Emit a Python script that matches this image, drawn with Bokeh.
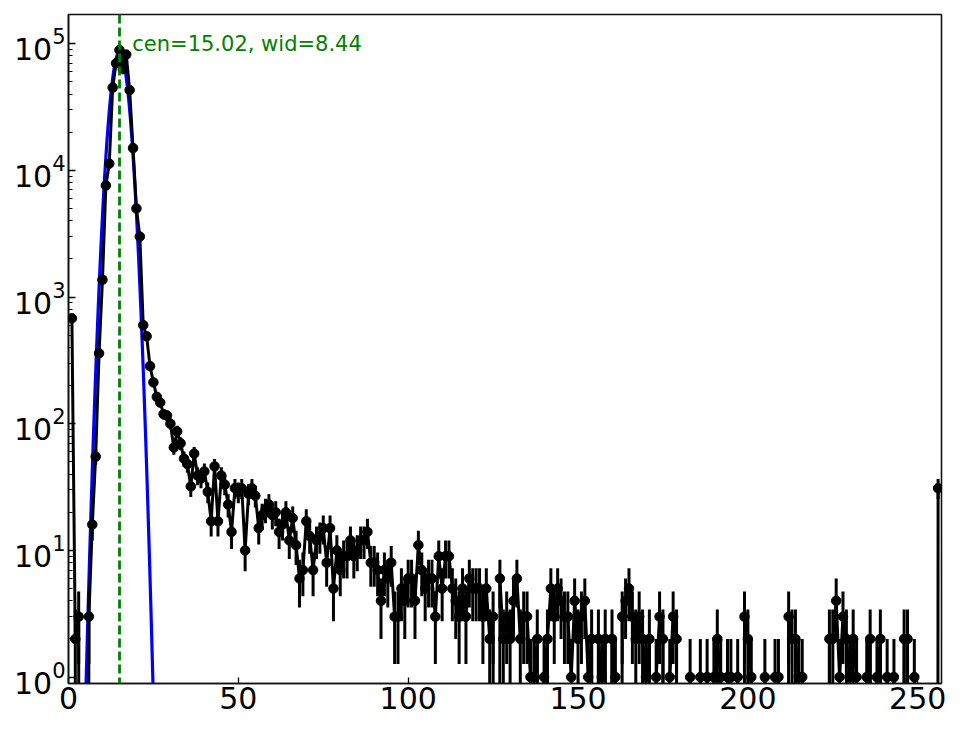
import numpy as np
from bokeh.plotting import figure
from bokeh.models import Range1d, FixedTicker, Span, Label, ColumnDataSource
from bokeh.embed import file_html
from bokeh.resources import INLINE

# ---- data (histogram counts per bin) ----
counts = [
    680, 2, 3, 0, 0, 3, 16, 55, 360, 1370,                      # 0-9
    7600, 11300, 45000, 70000, 89000, 63000, 82000, 43000, 15000, 5000,  # 10-19
    3000, 600, 490, 285, 212, 163, 147, 119, 116, 100,          # 20-29
    65, 87, 70, 53, 48, 32, 58, 39, 37, 42,                     # 30-39
    29, 17, 46, 17, 39, 33, 23, 14, 31, 29,                     # 40-49
    31, 10, 28, 31, 27, 15, 19, 21, 23, 19,                     # 50-59
    20, 14, 16, 20, 12, 18, 11, 6, 7, 17,                       # 60-69
    13, 7, 12, 13, 15, 8, 15, 5, 10, 7,                         # 70-79
    9, 9, 12, 9, 10, 12, 12, 14, 8, 8,                          # 80-89
    7, 4, 7, 6, 8, 3, 3, 5, 4, 6,                               # 90-99
    6, 4, 11, 7, 5, 6, 6, 3, 9, 5,                              # 100-109
    9, 9, 5, 4, 3, 5, 3, 6, 5, 5,                               # 110-119
    5, 3, 5, 2, 3, 0, 6, 2, 3, 2,                               # 120-129
    4, 6, 2, 3, 3, 1, 1, 2, 0, 1,                               # 130-139
    2, 5, 3, 5, 4, 3, 3, 1, 4, 2,                               # 140-149
    3, 4, 1, 2, 0, 2, 1, 2, 0, 2,                               # 150-159
    1, 0, 3, 4, 5, 3, 2, 3, 2, 1,                               # 160-169
    2, 0, 1, 3, 2, 0, 1, 3, 2, 0,                               # 170-179
    0, 0, 1, 0, 0, 1, 0, 1, 0, 1,                               # 180-189
    2, 1, 0, 1, 1, 0, 1, 0, 3, 2,                               # 190-199
    1, 0, 0, 0, 1, 0, 0, 1, 1, 0,                               # 200-209
    0, 3, 2, 2, 1, 1, 0, 0, 0, 0,                               # 210-219
    0, 0, 0, 2, 2, 4, 1, 3, 2, 1,                               # 220-229
    2, 1, 0, 0, 1, 2, 0, 1, 2, 0,                               # 230-239
    1, 0, 1, 0, 0, 2, 2, 0, 1, 0,                               # 240-249
    0, 0, 0, 0, 0, 31,                                          # 250-255
]
assert len(counts) == 256

# Gaussian fit parameters (shown in the annotation)
fit_cen = 15.02
fit_wid = 8.44
fit_amp = 86000.0

x_ticks = [0, 50, 100, 150, 200, 250]
y_ticks = [1, 10, 100, 1000, 10000, 100000]
y_minor = [m * 10 ** d for d in range(0, 6) for m in range(2, 10)]

# ---- derived columns ----
c = np.array(counts, dtype=float)
bin_x = np.arange(1, len(c) + 1, dtype=float)
floor = 1e-30  # stands in for "minus infinity" on the log axis (zero counts)
err = np.sqrt(c)
y_plot = np.where(c > 0, c, floor)
lo = np.where(c - err > 0, c - err, floor)
hi = np.where(c + err > 0, c + err, floor)
src = ColumnDataSource(dict(x=bin_x, y=y_plot, lo=lo, hi=hi))

gx = np.linspace(0, 40, 1601)
gy = fit_amp * np.exp(-((gx - fit_cen) ** 2) / fit_wid)
keep = gy > 1e-12
gx, gy = gx[keep], gy[keep]

# ---- figure ----
p = figure(
    frame_width=873, frame_height=669,
    x_range=Range1d(0, 257), y_range=Range1d(0.89, 1.70e5),
    y_axis_type="log",
    output_backend="svg", toolbar_location=None,
    min_border_left=68, min_border_top=14, min_border_right=12, min_border_bottom=40,
    background_fill_color="white", border_fill_color="white",
)
p.grid.visible = False
p.outline_line_color = "#111111"
p.outline_line_width = 1.6

# fit curve
p.line(gx, gy, line_color="#0000ff", line_width=3.2)
# data
p.line("x", "y", source=src, line_color="black", line_width=3)
p.segment(x0="x", y0="lo", x1="x", y1="hi", source=src, line_color="black", line_width=3)
p.scatter("x", "y", source=src, size=9.5, marker="circle",
          fill_color="black", line_color="black")

# center line
p.add_layout(Span(location=fit_cen, dimension="height", line_color="#008000",
                  line_width=2.8, line_dash="9 4"))
p.add_layout(Label(x=fit_cen * 1.25, y=1.0e5, text=f"cen={fit_cen:.2f}, wid={fit_wid:.2f}",
                   text_color="#008000", text_font="DejaVu Sans", text_font_size="21px",
                   text_baseline="alphabetic", text_align="left"))

# axes
xa = p.xaxis[0]
xa.ticker = FixedTicker(ticks=x_ticks, minor_ticks=[])
ya = p.yaxis[0]
ya.ticker = FixedTicker(ticks=y_ticks, minor_ticks=y_minor)
for ax in (xa, ya):
    ax.major_label_text_font = "DejaVu Sans"
    ax.major_label_text_font_size = "30px"
    ax.major_label_text_color = "black"
    ax.axis_line_color = "#111111"
    ax.axis_line_width = 1.6
    ax.major_tick_line_color = "black"
    ax.minor_tick_line_color = "black"
    ax.major_tick_out = 0
    ax.minor_tick_out = 0
    ax.major_tick_line_width = 1.3
    ax.minor_tick_line_width = 1.0
xa.major_tick_in = 6
xa.minor_tick_in = 0
ya.major_tick_in = 7
ya.minor_tick_in = 4
xa.major_label_standoff = 3
ya.major_label_standoff = 3

open("out.html", "w").write(file_html(p, INLINE))
